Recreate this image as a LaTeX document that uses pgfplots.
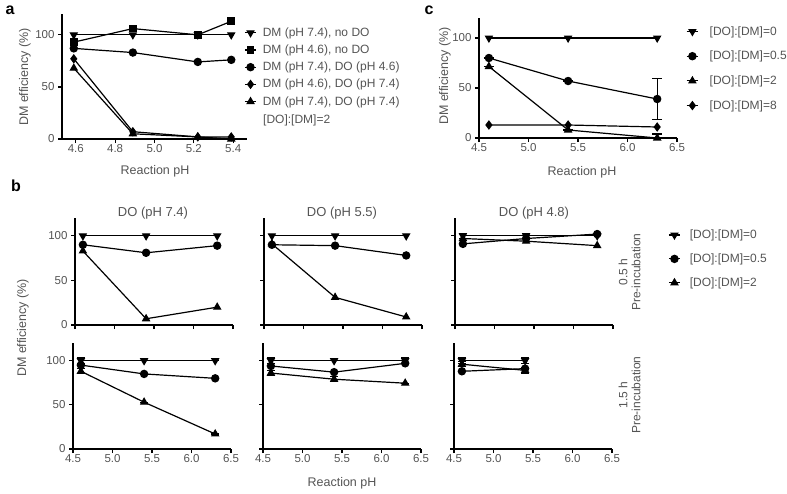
\documentclass[border=0pt]{standalone}
\usepackage{fontspec}
\setmainfont{Liberation Sans}
\usepackage{pgfplots}
\pgfplotsset{compat=1.18}
\definecolor{txt}{gray}{0.33}
\newcommand{\fs}{\fontsize{12}{13}\selectfont}
\newcommand{\ft}{\fontsize{11.5}{12}\selectfont}
\newcommand{\fl}{\fontsize{12.5}{13}\selectfont}
\newcommand{\fti}{\fontsize{13}{14}\selectfont}
\pgfplotsset{
  prism/.style={
    scale only axis,
    axis lines*=left,
    axis line style={line width=1.3pt, black},
    tick align=outside,
    major tick length=4pt,
    every tick/.style={black, line width=1.2pt},
    ymin=0, ymax=120,
    ytick={0,50,100},
    tick label style={font=\ft, text=txt},
    xticklabel style={inner sep=0pt, yshift=-1.5pt},
    /pgf/number format/assume math mode=true,
    clip=false,
    xtick pos=left, ytick pos=left,
    legend image code/.code={\draw[mark repeat=2,mark phase=2] plot coordinates {(0cm,0cm)(0.2cm,0cm)(0.4cm,0cm)};},
    legend style={draw=none, fill=none, inner sep=0pt, font=\fs, text=txt, cells={anchor=west}, nodes={inner sep=1pt}},
  },
  pH/.style={xmin=4.5, xmax=6.5, xtick={4.5,5,5.5,6,6.5},
    xticklabel style={/pgf/number format/.cd, fixed, fixed zerofill, precision=1}},
  pdn/.style={black, line width=1.2pt, mark=triangle*, mark size=3.8pt, mark options={solid, fill=black, rotate=180}},
  pci/.style={black, line width=1.2pt, mark=*, mark size=3.6pt, mark options={solid, fill=black}},
  psq/.style={black, line width=1.2pt, mark=square*, mark size=3.3pt, mark options={solid, fill=black}},
  pdi/.style={black, line width=1.2pt, mark=diamond*, mark size=3.8pt, mark options={solid, fill=black}},
  pup/.style={black, line width=1.2pt, mark=triangle*, mark size=3.8pt, mark options={solid, fill=black}},
  eb/.style={error bars/y dir=both, error bars/y explicit, error bars/error bar style={line width=1.1pt}, error bars/error mark options={rotate=90, mark size=4pt, line width=1.1pt}},
  ebc/.style={error bars/y dir=#1, error bars/y explicit, error bars/error bar style={line width=1.1pt}, error bars/error mark options={rotate=90, mark size=5pt, line width=1.1pt}},
}
\begin{document}
\begin{tikzpicture}
\useasboundingbox (0pt,0pt) rectangle (787pt,-493pt);
% ---------------- panel a ----------------
\begin{axis}[prism, at={(62pt,-139pt)}, anchor=south west, width=185pt, height=125pt,
  xmin=4.53, xmax=5.47, xtick={4.6,4.8,5.0,5.2,5.4},
  xticklabel style={/pgf/number format/.cd, fixed, fixed zerofill, precision=1},
  legend style={at={(0.984,0.9)}, anchor=north west, row sep=5pt, column sep=5pt}]
\addplot[pdn] coordinates {(4.59,100)(4.89,100)(5.22,100)(5.39,100)};
\addlegendentry{DM (pH 7.4), no DO}
\addplot[psq] coordinates {(4.59,93)(4.89,106)(5.22,100)(5.39,113)};
\addlegendentry{DM (pH 4.6), no DO}
\addplot[pci] coordinates {(4.59,87)(4.89,83)(5.22,74)(5.39,76)};
\addlegendentry{DM (pH 7.4), DO (pH 4.6)}
\addplot[pdi] coordinates {(4.59,77)(4.89,7)(5.22,2)(5.39,2)};
\addlegendentry{DM (pH 4.6), DO (pH 7.4)}
\addplot[pup] coordinates {(4.59,68)(4.89,5)(5.22,2)(5.39,0)};
\addlegendentry{DM (pH 7.4), DO (pH 7.4)}
\end{axis}
\node[font=\fs, text=txt, anchor=west, inner sep=0pt] at (263pt,-120pt) {[DO]:[DM]=2};
\node[font=\fl, text=txt, rotate=90] at (25pt,-77pt) {DM efficiency (\%)};
\node[font=\fl, text=txt] at (155pt,-171pt) {Reaction pH};
% ---------------- panel c ----------------
\begin{axis}[prism, pH, at={(479pt,-138pt)}, anchor=south west, width=198pt, height=120pt,
  legend style={at={(1.045,0.94)}, anchor=north west, row sep=12.5pt, column sep=10pt}]
\addplot[pdn] coordinates {(4.6,100)(5.4,100)(6.3,100)};
\addlegendentry{[DO]:[DM]=0}
\addplot[pci, ebc=both] coordinates {(4.6,80) +- (0,0) (5.4,57) +- (0,0) (6.3,39) +- (0,20.5)};
\addlegendentry{[DO]:[DM]=0.5}
\addplot[pup, ebc=plus] coordinates {(4.6,71.5) +- (0,0) (5.4,8) +- (0,0) (6.3,0) +- (0,4)};
\addlegendentry{[DO]:[DM]=2}
\addplot[pdi] coordinates {(4.6,13)(5.4,13)(6.3,11)};
\addlegendentry{[DO]:[DM]=8}
\end{axis}
\node[font=\fl, text=txt, rotate=90] at (445pt,-76pt) {DM efficiency (\%)};
\node[font=\fl, text=txt] at (582pt,-172pt) {Reaction pH};
% ---------------- panel b, top row ----------------
\begin{axis}[prism, pH, at={(75pt,-325pt)}, anchor=south west, width=158pt, height=107pt, xticklabels={}]
\addplot[pdn] coordinates {(4.6,100)(5.4,100)(6.3,100)};
\addplot[pci] coordinates {(4.6,90)(5.4,81)(6.3,89)};
\addplot[pup] coordinates {(4.6,83)(5.4,7)(6.3,20)};
\end{axis}
\begin{axis}[prism, pH, at={(264pt,-325pt)}, anchor=south west, width=158pt, height=107pt, xticklabels={}, yticklabels={}]
\addplot[pdn] coordinates {(4.6,100)(5.4,100)(6.3,100)};
\addplot[pci] coordinates {(4.6,90)(5.4,89)(6.3,78)};
\addplot[pup] coordinates {(4.6,91)(5.4,31)(6.3,9)};
\end{axis}
\begin{axis}[prism, pH, at={(455pt,-325pt)}, anchor=south west, width=158pt, height=107pt, xticklabels={}, yticklabels={},
  legend style={at={(1.348,0.9)}, anchor=north west, row sep=11.7pt, column sep=8pt}]
\addplot[pdn, eb] coordinates {(4.6,100) +- (0,3) (5.4,100) +- (0,3) (6.3,100) +- (0,0)};
\addlegendentry{[DO]:[DM]=0}
\addplot[pci] coordinates {(4.6,91)(5.4,97)(6.3,102)};
\addlegendentry{[DO]:[DM]=0.5}
\addplot[pup] coordinates {(4.6,97)(5.4,94)(6.3,89)};
\addlegendentry{[DO]:[DM]=2}
\end{axis}
% ---------------- panel b, bottom row ----------------
\begin{axis}[prism, pH, at={(73pt,-449pt)}, anchor=south west, width=158pt, height=106pt]
\addplot[pdn, eb] coordinates {(4.6,100) +- (0,3) (5.4,100) +- (0,0) (6.3,100) +- (0,0)};
\addplot[pci] coordinates {(4.6,95)(5.4,85)(6.3,80)};
\addplot[pup, eb] coordinates {(4.6,88) +- (0,3) (5.4,53) +- (0,0) (6.3,17) +- (0,0)};
\end{axis}
\begin{axis}[prism, pH, at={(263pt,-449pt)}, anchor=south west, width=158pt, height=106pt, yticklabels={}]
\addplot[pdn, eb] coordinates {(4.6,100) +- (0,3) (5.4,100) +- (0,0) (6.3,100) +- (0,3)};
\addplot[pci] coordinates {(4.6,94)(5.4,87)(6.3,97)};
\addplot[pup, eb] coordinates {(4.6,86) +- (0,3) (5.4,79) +- (0,3) (6.3,74.5) +- (0,0)};
\end{axis}
\begin{axis}[prism, pH, at={(454pt,-449pt)}, anchor=south west, width=158pt, height=106pt, yticklabels={}]
\addplot[pdn, eb] coordinates {(4.6,100) +- (0,3) (5.4,100) +- (0,3)};
\addplot[pci] coordinates {(4.6,88)(5.4,91)};
\addplot[pup, eb] coordinates {(4.6,96) +- (0,3) (5.4,89) +- (0,3)};
\end{axis}
% ---------------- panel b labels ----------------
\node[font=\fti, text=txt] at (153pt,-213pt) {DO (pH 7.4)};
\node[font=\fti, text=txt] at (342pt,-213pt) {DO (pH 5.5)};
\node[font=\fti, text=txt] at (534pt,-213pt) {DO (pH 4.8)};
\node[font=\fl, text=txt, rotate=90] at (23pt,-328pt) {DM efficiency (\%)};
\node[font=\fl, text=txt] at (342pt,-483pt) {Reaction pH};
\node[font=\fs, text=txt, rotate=90] at (623pt,-272pt) {0.5 h};
\node[font=\fs, text=txt, rotate=90] at (636pt,-272pt) {Pre-incubation};
\node[font=\fs, text=txt, rotate=90] at (623pt,-395pt) {1.5 h};
\node[font=\fs, text=txt, rotate=90] at (636pt,-395pt) {Pre-incubation};
% panel letters
\node[font=\fontsize{16}{17}\selectfont\bfseries, anchor=center] at (10pt,-10pt) {a};
\node[font=\fontsize{16}{17}\selectfont\bfseries, anchor=center] at (16pt,-186pt) {b};
\node[font=\fontsize{16}{17}\selectfont\bfseries, anchor=center] at (429pt,-10pt) {c};
\end{tikzpicture}
\end{document}
